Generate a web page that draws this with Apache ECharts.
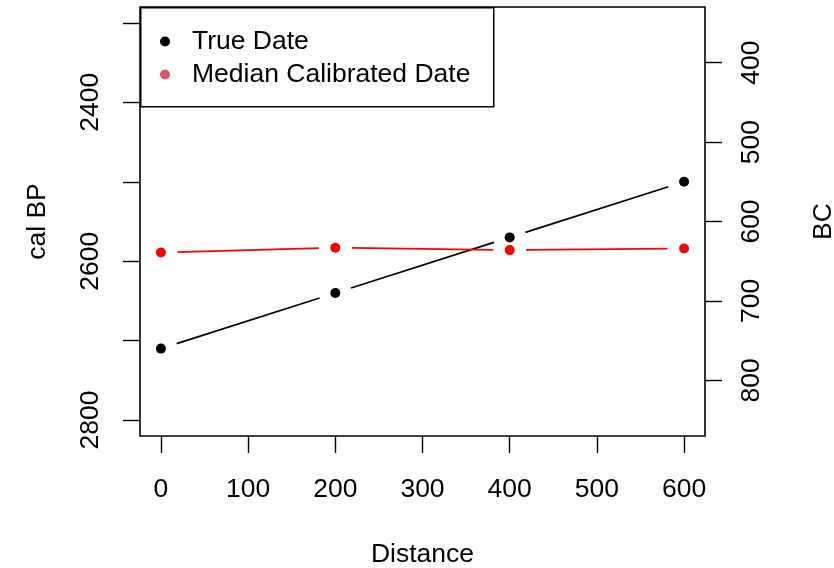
<!DOCTYPE html>
<html>
<head>
<meta charset="utf-8">
<script src="https://cdn.jsdelivr.net/npm/echarts@6/dist/echarts.min.js"></script>
<style>
  html, body { margin: 0; padding: 0; background: #fff; }
  #chart { width: 834px; height: 568px; }
</style>
</head>
<body>
<div id="chart"></div>
<script>
// Sampling distance along the transect
var distance = [0, 200, 400, 600];
// Known (true) dates, cal BP
var trueDate = [2710, 2640, 2570, 2500];
// Median of the calibrated date distributions, cal BP
var medianDate = [2589, 2583, 2586, 2584];

// Axis ticks and labels
var xTicks = [0, 100, 200, 300, 400, 500, 600];
var calTicks = [2300, 2400, 2500, 2600, 2700, 2800];
var calLabels = [2400, 2600, 2800];
var bcTicks = [400, 500, 600, 700, 800];

var FONT = "'Liberation Sans', Arial, Helvetica, sans-serif";
var FS = 26.5;
var GAP = 16.5; // gap left around each point by the connecting segments

function pairs(xs, ys) {
  var out = [];
  for (var i = 0; i + 1 < xs.length; i++) {
    out.push([xs[i], ys[i], xs[i + 1], ys[i + 1]]);
  }
  return out;
}

function segmentSeries(name, data, color) {
  return {
    name: name,
    type: 'custom',
    xAxisIndex: 0,
    yAxisIndex: 0,
    encode: { x: [0, 2], y: [1, 3] },
    data: data,
    silent: true,
    renderItem: function (params, api) {
      var a = api.coord([api.value(0), api.value(1)]);
      var b = api.coord([api.value(2), api.value(3)]);
      var dx = b[0] - a[0], dy = b[1] - a[1];
      var len = Math.sqrt(dx * dx + dy * dy);
      var ux = dx / len, uy = dy / len;
      return {
        type: 'line',
        shape: {
          x1: a[0] + ux * GAP, y1: a[1] + uy * GAP,
          x2: b[0] - ux * GAP, y2: b[1] - uy * GAP
        },
        style: { stroke: color, lineWidth: 1.7 }
      };
    }
  };
}

var calMin = 2280, calMax = 2820;
var bcOffset = 1950;

var chart = echarts.init(document.getElementById('chart'), null, { renderer: 'canvas' });

var tickStyle = { color: '#000', width: 1.4 };
var labelStyle = {
  color: '#000', fontSize: FS, fontFamily: FONT,
  formatter: function (v) { return String(v); }
};
var nameStyle = { color: '#000', fontSize: FS, fontFamily: FONT };
var hiddenLine = { show: false, onZero: false };

chart.setOption({
  animation: false,
  backgroundColor: '#fff',
  textStyle: { fontFamily: FONT },
  grid: {
    left: 140, right: 129, top: 7, bottom: 132,
    show: true, borderColor: '#000', borderWidth: 1.6,
    backgroundColor: 'transparent',
    outerBoundsMode: 'none'
  },
  xAxis: {
    type: 'value',
    min: -24, max: 624,
    name: 'Distance',
    nameLocation: 'middle',
    nameGap: 105,
    nameTextStyle: nameStyle,
    axisLine: hiddenLine,
    splitLine: { show: false },
    axisTick: { show: true, length: 17, lineStyle: tickStyle, customValues: xTicks },
    axisLabel: Object.assign({ margin: 40, customValues: xTicks }, labelStyle)
  },
  yAxis: [{
    type: 'value',
    position: 'left',
    inverse: true,
    min: calMin, max: calMax,
    name: 'cal BP',
    nameLocation: 'middle',
    nameRotate: 90,
    nameGap: 89,
    nameTextStyle: nameStyle,
    axisLine: hiddenLine,
    splitLine: { show: false },
    axisTick: { show: true, length: 17, lineStyle: tickStyle, customValues: calTicks },
    axisLabel: Object.assign({ margin: 36, rotate: 90, customValues: calLabels }, labelStyle)
  }, {
    type: 'value',
    position: 'right',
    inverse: true,
    min: calMin - bcOffset, max: calMax - bcOffset,
    name: 'BC',
    nameLocation: 'middle',
    nameRotate: 90,
    nameGap: 105,
    nameTextStyle: nameStyle,
    axisLine: hiddenLine,
    splitLine: { show: false },
    axisTick: { show: true, length: 17, lineStyle: tickStyle, customValues: bcTicks },
    axisLabel: Object.assign({ margin: 33, rotate: 90, customValues: bcTicks }, labelStyle)
  }],
  legend: {
    orient: 'vertical',
    left: 160, top: 26.5,
    padding: 0,
    icon: 'circle',
    itemWidth: 10, itemHeight: 10,
    itemGap: 3,
    z: 10,
    selectedMode: false,
    textStyle: {
      color: '#000', fontSize: FS, fontFamily: FONT, lineHeight: 30,
      padding: [0, 0, 0, 17]
    },
    data: [
      { name: 'True Date', itemStyle: { color: '#000000', opacity: 1 } },
      { name: 'Median Calibrated Date', itemStyle: { color: '#DF536B', opacity: 1 } }
    ]
  },
  graphic: [{
    type: 'rect',
    left: 140, top: 7,
    z: 5,
    shape: { width: 353, height: 99 },
    style: { fill: '#fff', stroke: '#000', lineWidth: 1.5 }
  }],
  series: [
    segmentSeries('True Date', pairs(distance, trueDate), '#000000'),
    segmentSeries('Median Calibrated Date', pairs(distance, medianDate), '#FF0000'),
    {
      name: 'True Date',
      type: 'scatter',
      symbol: 'circle',
      symbolSize: 10,
      itemStyle: { color: '#000000', opacity: 1 },
      data: distance.map(function (d, i) { return [d, trueDate[i]]; }),
      z: 3
    },
    {
      name: 'Median Calibrated Date',
      type: 'scatter',
      symbol: 'circle',
      symbolSize: 10,
      itemStyle: { color: '#FF0000', opacity: 1 },
      data: distance.map(function (d, i) { return [d, medianDate[i]]; }),
      z: 3
    }
  ]
});
</script>
</body>
</html>
